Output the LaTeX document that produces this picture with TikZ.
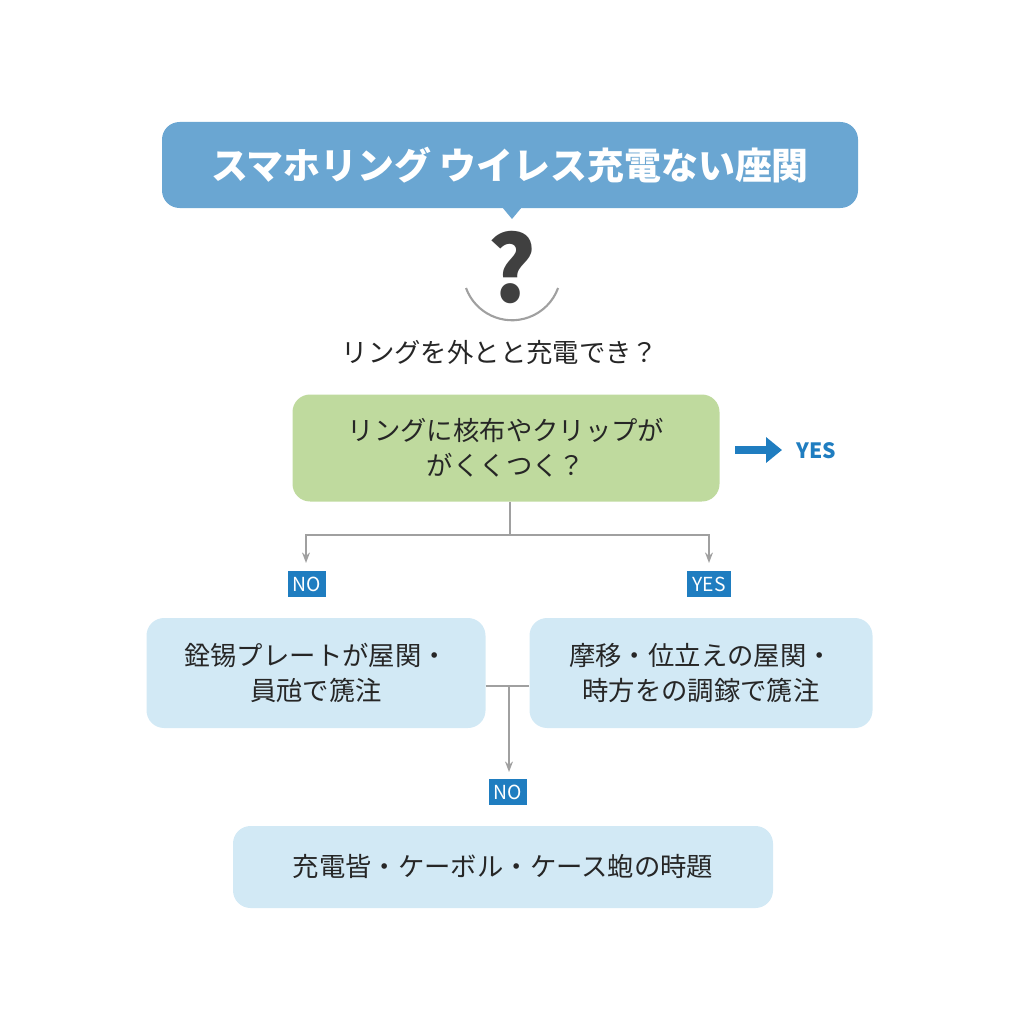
\documentclass[tikz,border=0pt]{standalone}
\usepackage{fontspec}
\setmainfont{Noto Sans CJK JP}
\usetikzlibrary{arrows.meta}
\definecolor{titleblue}{HTML}{6AA6D2}
\definecolor{qgreen}{HTML}{BFDA9E}
\definecolor{boxblue}{HTML}{D2E9F5}
\definecolor{tagblue}{HTML}{1F7DC0}
\definecolor{linegray}{HTML}{A0A0A0}
\tikzset{
    box/.style = {rounded corners=10pt, draw=none, align=center, font=\fontsize{15}{20}\selectfont, text=black!85},
    tag/.style = {fill=tagblue, text=white, inner sep=3pt, font=\fontsize{11}{12}\selectfont},
    link/.style = {draw=linegray, line width=1pt},
    arr/.style = {link, -{Stealth[length=6pt]}}
}
\begin{document}
\begin{tikzpicture}[x=0.02cm, y=-0.02cm]
    \useasboundingbox (0,0) rectangle (1024,1024);
    % title
    \fill[titleblue] (502,207) -- (512,219) -- (522,207) -- cycle;
    \node (title) [box, fill=titleblue, text=white, minimum width=696*0.02cm, minimum height=86*0.02cm, font=\fontsize{21}{24}\selectfont\bfseries] at (510,165) {スマホリング ウイレス充電ない座関};
    % question mark
    \node (qmark) [text=black!75, font=\fontsize{52}{52}\selectfont\bfseries] at (512,268) {?};
    \draw[linegray, line width=1.2pt] (466,288) arc[start angle=160, end angle=20, radius=49];
    \node (ask) [font=\fontsize{15}{17}\selectfont, text=black!85] at (500,352) {リングを外とと充電でき？};
    % question box
    \node (check) [box, fill=qgreen, minimum width=427*0.02cm, minimum height=107*0.02cm] at (506,448) {リングに核布やクリップが\\がくくつく？};
    \draw[-{Triangle[length=9pt,width=14pt]}, tagblue, line width=4pt] (735,450) -- (782,450);
    \node (yesr) [text=tagblue, font=\fontsize{12}{14}\selectfont\bfseries] at (816,451) {YES};
    % branches
    \coordinate (split) at (510,535);
    \draw[link] (check.south -| split) -- (split);
    \draw[arr] (split) -| (306,563);
    \draw[arr] (split) -| (709,563);
    \node (no1) [tag] at (307,584) {NO};
    \node (yes1) [tag] at (709,584) {YES};
    \node (left) [box, fill=boxblue, minimum width=339*0.02cm, minimum height=110*0.02cm] at (316,673) {銓锡プレートが屋関・\\員兘で篪注};
    \node (right) [box, fill=boxblue, minimum width=343*0.02cm, minimum height=110*0.02cm] at (701,673) {摩移・位立えの屋関・\\時方をの調鎵で篪注};
    \coordinate (join) at (509,686);
    \draw[link] (left.east |- join) -- (right.west |- join);
    \draw[arr] (join) -- (509,772);
    \node (no2) [tag] at (508,792) {NO};
    \node (final) [box, fill=boxblue, minimum width=540*0.02cm, minimum height=82*0.02cm] at (503,867) {充電皆・ケーボル・ケース蚫の時題};
\end{tikzpicture}
\end{document}
